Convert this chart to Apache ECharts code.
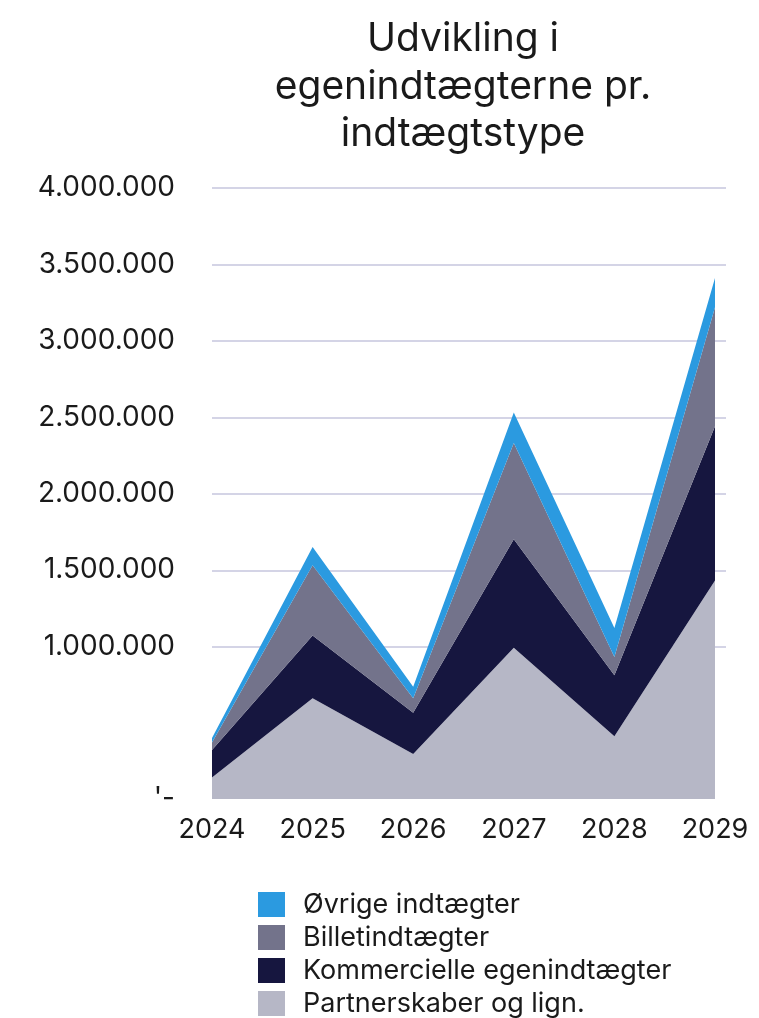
<!DOCTYPE html>
<html>
<head>
<meta charset="utf-8">
<script src="https://cdn.jsdelivr.net/npm/echarts@6/dist/echarts.min.js"></script>
<style>
html,body{margin:0;padding:0;background:#fff;}
#chart{width:759px;height:1018px;}
</style>
</head>
<body>
<div id="chart"></div>
<script>
const titleText = 'Udvikling i\negenindtægterne pr.\nindtægtstype';
const years = ['2024', '2025', '2026', '2027', '2028', '2029'];
const seriesNames = ['Partnerskaber og lign.', 'Kommercielle egenindtægter', 'Billetindtægter', 'Øvrige indtægter'];
const partnerskaber = [140000, 660000, 295000, 990000, 410000, 1430000];
const kommercielle = [180000, 410000, 270000, 710000, 400000, 1010000];
const billet = [50000, 460000, 95000, 630000, 120000, 780000];
const oevrige = [30000, 120000, 75000, 200000, 190000, 190000];
const legendOrder = ['Øvrige indtægter', 'Billetindtægter', 'Kommercielle egenindtægter', 'Partnerskaber og lign.'];
const yTickLabels = {0: "'-", 500000: '', 1000000: '1.000.000', 1500000: '1.500.000', 2000000: '2.000.000',
  2500000: '2.500.000', 3000000: '3.000.000', 3500000: '3.500.000', 4000000: '4.000.000'};

const colors = ['#b6b7c6', '#16163f', '#73738b', '#2b9ae0'];
const seriesData = [partnerskaber, kommercielle, billet, oevrige];
const FONT = 'Inter';

const chart = echarts.init(document.getElementById('chart'), null, {renderer: 'canvas'});
const series = seriesNames.map((name, i) => ({
  name: name,
  type: 'line',
  stack: 'total',
  data: seriesData[i],
  xAxisIndex: 0,
  yAxisIndex: 0,
  symbol: 'none',
  lineStyle: {width: 0},
  areaStyle: {color: colors[i], opacity: 1},
  itemStyle: {color: colors[i]},
  z: 3
}));

chart.setOption({
  animation: false,
  backgroundColor: '#ffffff',
  title: {
    text: titleText,
    left: 458,
    top: 11,
    textAlign: 'center',
    textStyle: {fontFamily: FONT, fontSize: 39, fontWeight: 'normal', color: '#1a1a1a', lineHeight: 47.5}
  },
  legend: {
    data: legendOrder,
    orient: 'vertical',
    left: 258,
    top: 891,
    height: 200,
    padding: 0,
    itemWidth: 27,
    itemHeight: 25,
    itemGap: 6,
    icon: 'rect',
    textStyle: {fontFamily: FONT, fontSize: 27, lineHeight: 25, color: '#1a1a1a', padding: [0, 0, 0, 13]}
  },
  grid: [
    {left: 212, right: 44, top: 188, bottom: 219, containLabel: false},
    {left: 212, right: 33, top: 188, bottom: 371, containLabel: false}
  ],
  xAxis: [
    {
      type: 'category', gridIndex: 0, data: years, boundaryGap: false,
      axisLine: {show: false}, axisTick: {show: false},
      axisLabel: {fontFamily: FONT, fontSize: 27, color: '#1a1a1a', margin: 17}
    },
    {
      type: 'value', gridIndex: 1, min: 0, max: 1, show: false
    }
  ],
  yAxis: [
    {
      type: 'value', gridIndex: 0, min: 0, max: 4000000, interval: 500000,
      axisLine: {show: false}, axisTick: {show: false}, splitLine: {show: false},
      axisLabel: {fontFamily: FONT, fontSize: 28, color: '#1a1a1a', margin: 37,
        formatter: v => (yTickLabels[v] !== undefined ? yTickLabels[v] : '')}
    },
    {
      type: 'value', gridIndex: 1, min: 1000000, max: 4000000, interval: 500000,
      axisLine: {show: false}, axisTick: {show: false}, axisLabel: {show: false},
      splitLine: {show: true, lineStyle: {color: '#d4d4e6', width: 2}}
    }
  ],
  series: series
});
</script>
</body>
</html>
